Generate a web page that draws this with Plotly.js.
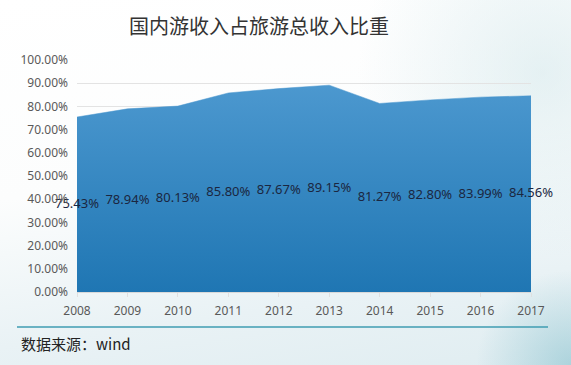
<!DOCTYPE html>
<html>
<head>
<meta charset="utf-8">
<script src="https://cdn.plot.ly/plotly-3.0.1.min.js"></script>
<style>
html,body{margin:0;padding:0;}
body{width:571px;height:365px;overflow:hidden;
background:
radial-gradient(circle at 100% 100%, rgba(110,180,195,0.45) 0%, rgba(110,180,195,0) 14%),
radial-gradient(circle at 95% 20%, rgba(205,228,232,0.5) 0%, rgba(205,228,232,0) 30%),
linear-gradient(172deg, #ffffff 0%, #fcfdfd 45%, #e9f2f5 78%, #e0edf1 100%);}
#chart{width:571px;height:365px;}
</style>
</head>
<body>
<div id="chart"></div>
<script>
const years = ['2008','2009','2010','2011','2012','2013','2014','2015','2016','2017'];
const shares = [75.43, 78.94, 80.13, 85.80, 87.67, 89.15, 81.27, 82.80, 83.99, 84.56];
const chartTitle = '国内游收入占旅游总收入比重';
const sourceText = '数据来源：wind';

const xNum = years.map(Number);
const area = {
  type: 'scatter', mode: 'lines',
  x: xNum, y: shares.map(v => v / 100),
  fill: 'tozeroy',
  line: {width: 0.5, color: '#4a97cf'},
  fillgradient: {type: 'vertical', colorscale: [[0, '#1f76b3'], [1, '#4c98cf']]},
  hoverinfo: 'skip', showlegend: false
};
const labels = {
  type: 'scatter', mode: 'text',
  x: xNum, y: shares.map(v => v / 200),
  text: shares.map(v => v.toFixed(2) + '%'),
  textposition: 'middle center',
  textfont: {family: 'Noto Sans, sans-serif', size: 13, color: '#1b2640'},
  showlegend: false, hoverinfo: 'skip', cliponaxis: false
};

const L = 77, R = 531, T = 60, B = 292;
const px2x = p => (p - L) / (R - L);
const py2y = p => (B - p) / (B - T);

const layout = {
  width: 571, height: 365,
  paper_bgcolor: 'rgba(0,0,0,0)', plot_bgcolor: 'rgba(0,0,0,0)',
  margin: {l: L, r: 571 - R, t: T, b: 365 - B, pad: 0},
  font: {family: 'Noto Sans, sans-serif', color: '#595959', size: 12},
  title: {text: chartTitle, xref: 'container', x: 259 / 571, xanchor: 'center', yref: 'container', y: 1 - 27 / 365, yanchor: 'middle',
    font: {family: 'Noto Sans CJK SC', size: 20, color: '#333333'}},
  xaxis: {
    range: [2008, 2017], tickvals: xNum, ticktext: years,
    showgrid: false, zeroline: false, showline: true, linecolor: '#d9d9d9', linewidth: 1,
    ticks: 'outside', ticklen: 4, tickcolor: '#e0e0e0',
    ticklabelstandoff: 4, tickfont: {size: 12, color: '#595959'}
  },
  yaxis: {
    range: [0, 1], dtick: 0.1, tick0: 0, tickformat: '.2%',
    showgrid: true, gridcolor: '#e3e3e3', gridwidth: 1, zeroline: false,
    showline: false, ticks: '', ticklabelstandoff: 8,
    tickfont: {size: 12, color: '#595959'}
  },
  shapes: [{type: 'line', xref: 'paper', yref: 'paper',
    x0: px2x(17), x1: px2x(548), y0: py2y(327), y1: py2y(327),
    line: {color: '#3f9db2', width: 1.5}}],
  annotations: [{xref: 'paper', yref: 'paper', x: px2x(19), y: py2y(343),
    xanchor: 'left', yanchor: 'middle', showarrow: false, text: sourceText,
    font: {family: 'Noto Sans CJK SC', size: 15, color: '#222222'}}]
};

Plotly.newPlot('chart', [area, labels], layout, {displayModeBar: false, staticPlot: true});
</script>
</body>
</html>
